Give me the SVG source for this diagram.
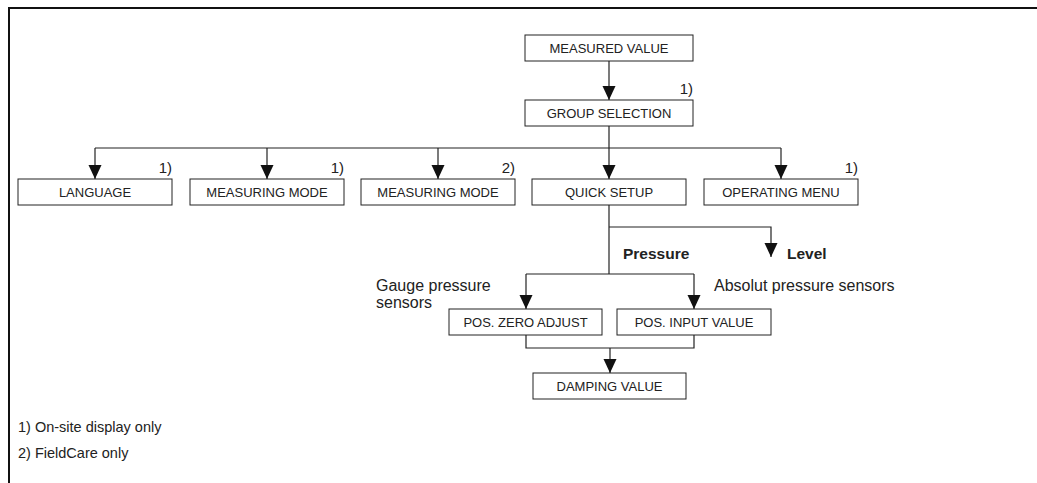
<svg xmlns="http://www.w3.org/2000/svg" width="1037" height="483" viewBox="0 0 1037 483">
<style>
.box{fill:#fff;stroke:#222;stroke-width:1}
.lbl{font-family:"Liberation Sans",Arial,sans-serif;font-size:13px;fill:#222;text-anchor:middle}
.note{font-family:"Liberation Sans",Arial,sans-serif;font-size:15px;fill:#222}
.side{font-family:"Liberation Sans",Arial,sans-serif;font-size:16px;fill:#222}
.bold{font-family:"Liberation Sans",Arial,sans-serif;font-size:15.5px;font-weight:bold;fill:#222}
.fn{font-family:"Liberation Sans",Arial,sans-serif;font-size:14.5px;fill:#222}
.c{fill:none;stroke:#222;stroke-width:1.2}
</style>
<defs>
<marker id="ah" viewBox="0 -7 14 14" refX="14" refY="0" markerWidth="14" markerHeight="14" markerUnits="userSpaceOnUse" orient="auto">
<path d="M0,-6.5 L14,0 L0,6.5 z" fill="#111"/>
</marker>
</defs>
<rect width="1037" height="483" fill="#fff"/>
<path d="M9,483 V8 H1037" fill="none" stroke="#111" stroke-width="2"/>

<g id="connectors">
<path class="c" d="M609,61 V100" marker-end="url(#ah)"/>
<path class="c" d="M609,126 V148 M95,148 H781"/>
<path class="c" d="M95,148 V179" marker-end="url(#ah)"/>
<path class="c" d="M267,148 V179" marker-end="url(#ah)"/>
<path class="c" d="M438,148 V179" marker-end="url(#ah)"/>
<path class="c" d="M609,148 V179" marker-end="url(#ah)"/>
<path class="c" d="M781,148 V179" marker-end="url(#ah)"/>
<path class="c" d="M609,205 V274"/>
<path class="c" d="M609,227 H771 V257" marker-end="url(#ah)"/>
<path class="c" d="M526,274 H694"/>
<path class="c" d="M526,274 V309" marker-end="url(#ah)"/>
<path class="c" d="M694,274 V309" marker-end="url(#ah)"/>
<path class="c" d="M526,335 V348 H694 V335"/>
<path class="c" d="M610,348 V373" marker-end="url(#ah)"/>
</g>

<g id="measured-value">
<rect class="box" x="525" y="35" width="168" height="26"/>
<text class="lbl" x="609" y="52.5">MEASURED VALUE</text>
</g>
<g id="group-selection">
<rect class="box" x="525" y="100" width="168" height="26"/>
<text class="lbl" x="609" y="117.5">GROUP SELECTION</text>
<text class="note" x="693" y="94" text-anchor="end">1)</text>
</g>
<g id="language">
<rect class="box" x="18" y="179" width="154" height="26"/>
<text class="lbl" x="95" y="196.5">LANGUAGE</text>
<text class="note" x="172" y="173" text-anchor="end">1)</text>
</g>
<g id="measuring-mode-1">
<rect class="box" x="190" y="179" width="154" height="26"/>
<text class="lbl" x="267" y="196.5">MEASURING MODE</text>
<text class="note" x="344" y="173" text-anchor="end">1)</text>
</g>
<g id="measuring-mode-2">
<rect class="box" x="361" y="179" width="154" height="26"/>
<text class="lbl" x="438" y="196.5">MEASURING MODE</text>
<text class="note" x="515" y="173" text-anchor="end">2)</text>
</g>
<g id="quick-setup">
<rect class="box" x="532" y="179" width="154" height="26"/>
<text class="lbl" x="609" y="196.5">QUICK SETUP</text>
</g>
<g id="operating-menu">
<rect class="box" x="704" y="179" width="154" height="26"/>
<text class="lbl" x="781" y="196.5">OPERATING MENU</text>
<text class="note" x="858" y="173" text-anchor="end">1)</text>
</g>
<g id="branch-labels">
<text class="bold" x="623" y="259">Pressure</text>
<text class="bold" x="787" y="259">Level</text>
<text class="side" x="376" y="291">Gauge pressure</text>
<text class="side" x="376" y="308">sensors</text>
<text class="side" x="714" y="291">Absolut pressure sensors</text>
</g>
<g id="pos-zero-adjust">
<rect class="box" x="449" y="309" width="153" height="26"/>
<text class="lbl" x="525.5" y="326.5">POS. ZERO ADJUST</text>
</g>
<g id="pos-input-value">
<rect class="box" x="617" y="309" width="154" height="26"/>
<text class="lbl" x="694" y="326.5">POS. INPUT VALUE</text>
</g>
<g id="damping-value">
<rect class="box" x="533" y="373" width="153" height="26"/>
<text class="lbl" x="609.5" y="390.5">DAMPING VALUE</text>
</g>
<g id="footnotes">
<text class="fn" x="18" y="432">1) On-site display only</text>
<text class="fn" x="18" y="458">2) FieldCare only</text>
</g>
</svg>
